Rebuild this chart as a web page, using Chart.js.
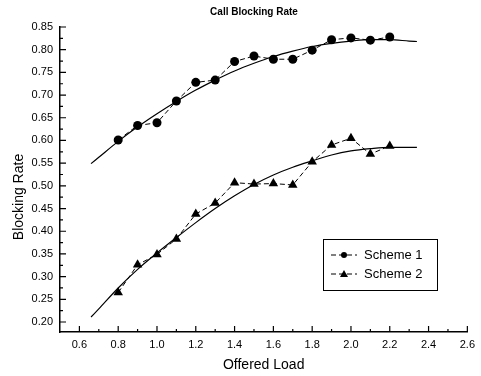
<!DOCTYPE html>
<html>
<head>
<meta charset="utf-8">
<script src="https://cdn.jsdelivr.net/npm/chart.js@4.4.1/dist/chart.umd.min.js"></script>
<style>
  html, body { margin: 0; padding: 0; background: #fff; }
  #wrap { width: 481px; height: 376px; position: relative; }
</style>
</head>
<body>
<div id="wrap"><canvas id="c" width="481" height="376"></canvas></div>
<script>
// ---- data ----
const TITLE = 'Call Blocking Rate';
const X_TITLE = 'Offered Load';
const Y_TITLE = 'Blocking Rate';
const SERIES_NAMES = ['Scheme 1', 'Scheme 2'];

const loads   = [0.8, 0.9, 1.0, 1.1, 1.2, 1.3, 1.4, 1.5, 1.6, 1.7, 1.8, 1.9, 2.0, 2.1, 2.2];
const scheme1 = [0.601, 0.633, 0.639, 0.687, 0.728, 0.733, 0.774, 0.786, 0.779, 0.779, 0.799, 0.822, 0.826, 0.821, 0.828];
const scheme2 = [0.265, 0.326, 0.349, 0.383, 0.438, 0.462, 0.507, 0.504, 0.505, 0.502, 0.553, 0.590, 0.605, 0.570, 0.588];

// fitted trend curves
const fitLoads = [0.66, 0.7, 0.8, 0.9, 1.0, 1.1, 1.2, 1.3, 1.4, 1.5, 1.6, 1.7, 1.8, 1.9, 2.0, 2.1, 2.2, 2.3, 2.34];
const fit1     = [0.549, 0.563, 0.598, 0.630, 0.659, 0.686, 0.711, 0.733, 0.753, 0.770, 0.785, 0.797, 0.807, 0.814, 0.819, 0.822, 0.822, 0.819, 0.818];
const fit2     = [0.211, 0.229, 0.275, 0.316, 0.352, 0.386, 0.419, 0.450, 0.478, 0.503, 0.524, 0.541, 0.555, 0.568, 0.577, 0.582, 0.585, 0.585, 0.585];

const xTicks = [0.6, 0.8, 1.0, 1.2, 1.4, 1.6, 1.8, 2.0, 2.2, 2.4, 2.6];
const yTicks = [0.20, 0.25, 0.30, 0.35, 0.40, 0.45, 0.50, 0.55, 0.60, 0.65, 0.70, 0.75, 0.80, 0.85];

// ---- helpers ----
const pts = (xs, ys) => xs.map((x, i) => ({ x: x, y: ys[i] }));
const FONT = '"Liberation Sans", Arial, sans-serif';

const axisDecor = {
  id: 'axisDecor',
  afterDraw(chart) {
    const ctx = chart.ctx, xs = chart.scales.x, ys = chart.scales.y;
    const area = chart.chartArea;
    ctx.save();
    ctx.strokeStyle = '#000';
    ctx.lineWidth = 1.2;
    ctx.beginPath();
    // major ticks (inward)
    xTicks.forEach(v => { const p = xs.getPixelForValue(v); ctx.moveTo(p, area.bottom); ctx.lineTo(p, area.bottom - 6); });
    yTicks.forEach(v => { const p = ys.getPixelForValue(v); ctx.moveTo(area.left, p); ctx.lineTo(area.left + 6, p); });
    // minor ticks halfway between majors
    xTicks.slice(0, -1).forEach((v, i) => { const p = xs.getPixelForValue((v + xTicks[i + 1]) / 2); ctx.moveTo(p, area.bottom); ctx.lineTo(p, area.bottom - 3); });
    yTicks.slice(0, -1).forEach((v, i) => { const p = ys.getPixelForValue((v + yTicks[i + 1]) / 2); ctx.moveTo(area.left, p); ctx.lineTo(area.left + 3, p); });
    ctx.stroke();

    // titles
    ctx.fillStyle = '#000';
    ctx.textAlign = 'center';
    ctx.textBaseline = 'middle';
    ctx.font = 'bold 10px ' + FONT;
    ctx.fillText(TITLE, 254, 12);
    ctx.font = '14px ' + FONT;
    ctx.fillText(X_TITLE, (area.left + area.right) / 2, 365);
    ctx.save();
    ctx.translate(19, 197);
    ctx.rotate(-Math.PI / 2);
    ctx.fillText(Y_TITLE, 0, 0);
    ctx.restore();

    // legend box
    const bx = 323, by = 239, bw = 114, bh = 51;
    ctx.fillStyle = '#fff';
    ctx.fillRect(bx, by, bw, bh);
    ctx.lineWidth = 1;
    ctx.strokeStyle = '#000';
    ctx.strokeRect(bx + 0.5, by + 0.5, bw, bh);
    const legendSets = chart.data.datasets.filter(d => d.inLegend);
    legendSets.forEach((d, i) => {
      const y = 255 + i * 19;
      ctx.setLineDash([5, 3]);
      ctx.lineWidth = 1;
      ctx.beginPath();
      ctx.moveTo(331, y); ctx.lineTo(357, y);
      ctx.stroke();
      ctx.setLineDash([]);
      ctx.fillStyle = '#000';
      ctx.beginPath();
      if (d.pointStyle === 'triangle') {
        ctx.moveTo(344, y - 4); ctx.lineTo(348, y + 3); ctx.lineTo(340, y + 3); ctx.closePath();
      } else {
        ctx.arc(344, y, 3, 0, Math.PI * 2);
      }
      ctx.fill();
      ctx.font = '13px ' + FONT;
      ctx.textAlign = 'left';
      ctx.fillText(d.label, 364, y);
    });
    ctx.restore();
  }
};

new Chart(document.getElementById('c'), {
  type: 'scatter',
  data: {
    datasets: [
      { label: SERIES_NAMES[0], inLegend: true, data: pts(loads, scheme1), showLine: true,
        borderColor: '#000', backgroundColor: '#000', borderWidth: 1, borderDash: [5, 3],
        pointStyle: 'circle', pointRadius: 4.5, pointBorderWidth: 0 },
      { label: SERIES_NAMES[1], inLegend: true, data: pts(loads, scheme2), showLine: true,
        borderColor: '#000', backgroundColor: '#000', borderWidth: 1, borderDash: [5, 3],
        pointStyle: 'triangle', pointRadius: 5.5, pointBorderWidth: 0 },
      { label: 'fit 1', data: pts(fitLoads, fit1), showLine: true, borderColor: '#000',
        borderWidth: 1.2, pointRadius: 0, tension: 0.4, cubicInterpolationMode: 'monotone' },
      { label: 'fit 2', data: pts(fitLoads, fit2), showLine: true, borderColor: '#000',
        borderWidth: 1.2, pointRadius: 0, tension: 0.4, cubicInterpolationMode: 'monotone' }
    ]
  },
  options: {
    responsive: false,
    animation: false,
    devicePixelRatio: 1,
    layout: { padding: { top: 27, right: 12, left: 0, bottom: 0 } },
    plugins: { legend: { display: false }, title: { display: false }, tooltip: { enabled: false } },
    scales: {
      x: {
        type: 'linear', min: 0.5, max: 2.6,
        afterFit: s => { s.height = 44; },
        afterBuildTicks: s => { s.ticks = xTicks.map(v => ({ value: v })); },
        grid: { display: true, drawOnChartArea: false, drawTicks: false },
        border: { display: true, color: '#000', width: 1.5 },
        ticks: { color: '#000', font: { family: FONT, size: 11 }, padding: 6,
                 maxRotation: 0, callback: v => Number(v).toFixed(1) }
      },
      y: {
        type: 'linear', min: 0.178, max: 0.85,
        afterFit: s => { s.width = 60; },
        afterBuildTicks: s => { s.ticks = yTicks.map(v => ({ value: v })); },
        grid: { display: true, drawOnChartArea: false, drawTicks: false },
        border: { display: true, color: '#000', width: 1.5 },
        ticks: { color: '#000', font: { family: FONT, size: 11 }, padding: 7,
                 callback: v => Number(v).toFixed(2) }
      }
    }
  },
  plugins: [axisDecor]
});
</script>
</body>
</html>
